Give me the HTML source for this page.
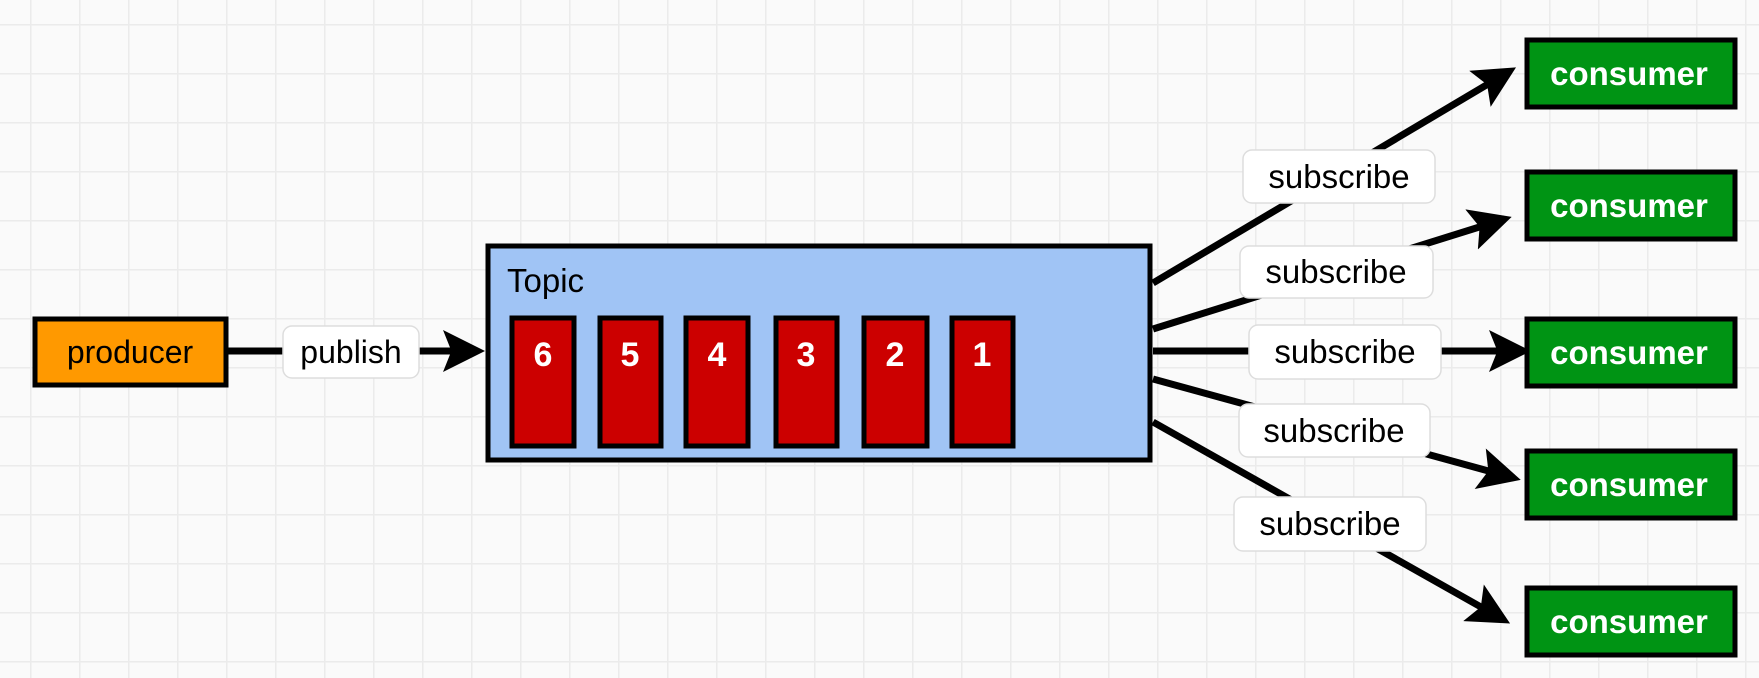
<!DOCTYPE html>
<html><head><meta charset="utf-8"><style>
html,body{margin:0;padding:0;background:#fafafa;}
svg{display:block;font-family:"Liberation Sans",sans-serif;}
</style></head><body>
<svg width="1759" height="678" viewBox="0 0 1759 678">
<defs>
<pattern id="grid" x="30" y="24" width="49" height="49" patternUnits="userSpaceOnUse">
<path d="M0 0H49M0 0V49" stroke="#ebebeb" stroke-width="3" fill="none"/>
</pattern>
<marker id="ah" markerWidth="6" markerHeight="6" refX="5" refY="3" orient="auto" markerUnits="strokeWidth">
<path d="M0,0 L6,3 L0,6 L1.2,3 Z" fill="#000"/>
</marker>
</defs>
<rect width="1759" height="678" fill="#fafafa"/>
<rect width="1759" height="678" fill="url(#grid)"/>

<line x1="227" y1="351" x2="478" y2="351" stroke="#000" stroke-width="7" marker-end="url(#ah)"/>
<g>
<rect x="35" y="319" width="191" height="66" fill="#ff9900" stroke="#000" stroke-width="5"/>
<text x="130" y="363" text-anchor="middle" font-size="32" fill="#000">producer</text>
</g>
<g>
<rect x="283" y="326" width="136" height="52" rx="9" fill="#fff" stroke="#ddd" stroke-width="1.5"/>
<text x="351" y="363" text-anchor="middle" font-size="32" fill="#000">publish</text>
</g>

<g stroke="#000" stroke-width="7" fill="none">
<line x1="1153" y1="283" x2="1510" y2="71" marker-end="url(#ah)"/>
<line x1="1153" y1="329" x2="1505" y2="219" marker-end="url(#ah)"/>
<line x1="1153" y1="351" x2="1524" y2="351" marker-end="url(#ah)"/>
<line x1="1153" y1="379" x2="1514" y2="478" marker-end="url(#ah)"/>
<line x1="1153" y1="422" x2="1504" y2="620" marker-end="url(#ah)"/>
</g>

<g>
<rect x="488" y="246" width="662" height="214" fill="#a0c4f5" stroke="#000" stroke-width="5"/>
<text x="507" y="292" font-size="33" fill="#000">Topic</text>
</g>
<g font-size="34" font-weight="bold" fill="#fff" text-anchor="middle">
<g><rect x="512" y="318" width="62" height="128" fill="#cc0000" stroke="#000" stroke-width="5"/><text x="543" y="366">6</text></g>
<g><rect x="600" y="318" width="61" height="128" fill="#cc0000" stroke="#000" stroke-width="5"/><text x="630" y="366">5</text></g>
<g><rect x="686" y="318" width="62" height="128" fill="#cc0000" stroke="#000" stroke-width="5"/><text x="717" y="366">4</text></g>
<g><rect x="776" y="318" width="61" height="128" fill="#cc0000" stroke="#000" stroke-width="5"/><text x="806" y="366">3</text></g>
<g><rect x="864" y="318" width="63" height="128" fill="#cc0000" stroke="#000" stroke-width="5"/><text x="895" y="366">2</text></g>
<g><rect x="952" y="318" width="61" height="128" fill="#cc0000" stroke="#000" stroke-width="5"/><text x="982" y="366">1</text></g>
</g>

<g font-size="33" fill="#000" text-anchor="middle">
<g><rect x="1243" y="150" width="192" height="53" rx="9" fill="#fff" stroke="#ddd" stroke-width="1.5"/><text x="1339" y="188">subscribe</text></g>
<g><rect x="1240" y="246" width="193" height="52" rx="9" fill="#fff" stroke="#ddd" stroke-width="1.5"/><text x="1336" y="283">subscribe</text></g>
<g><rect x="1249" y="325" width="192" height="54" rx="9" fill="#fff" stroke="#ddd" stroke-width="1.5"/><text x="1345" y="363">subscribe</text></g>
<g><rect x="1239" y="404" width="191" height="53" rx="9" fill="#fff" stroke="#ddd" stroke-width="1.5"/><text x="1334" y="442">subscribe</text></g>
<g><rect x="1234" y="497" width="192" height="54" rx="9" fill="#fff" stroke="#ddd" stroke-width="1.5"/><text x="1330" y="535">subscribe</text></g>
</g>

<g font-size="33" font-weight="bold" fill="#fff" text-anchor="middle">
<g><rect x="1527" y="40" width="208" height="67" fill="#009414" stroke="#000" stroke-width="5"/><text x="1629" y="85">consumer</text></g>
<g><rect x="1527" y="172" width="208" height="67" fill="#009414" stroke="#000" stroke-width="5"/><text x="1629" y="217">consumer</text></g>
<g><rect x="1527" y="319" width="208" height="67" fill="#009414" stroke="#000" stroke-width="5"/><text x="1629" y="364">consumer</text></g>
<g><rect x="1527" y="451" width="208" height="67" fill="#009414" stroke="#000" stroke-width="5"/><text x="1629" y="496">consumer</text></g>
<g><rect x="1527" y="588" width="208" height="67" fill="#009414" stroke="#000" stroke-width="5"/><text x="1629" y="633">consumer</text></g>
</g>
</svg>
</body></html>
